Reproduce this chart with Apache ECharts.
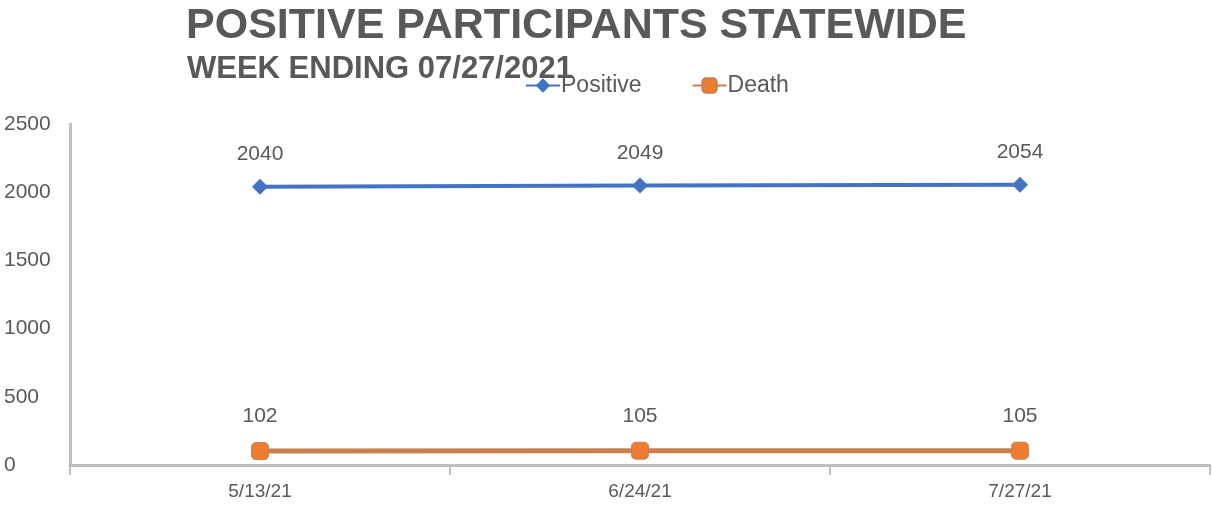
<!DOCTYPE html>
<html><head><meta charset="utf-8">
<script src="https://cdn.jsdelivr.net/npm/echarts@6/dist/echarts.min.js"></script>
<style>html,body{margin:0;padding:0;background:#fff}#c{width:1212px;height:505px}</style>
</head><body><div id="c"></div>
<script>
const categories = ['5/13/21', '6/24/21', '7/27/21'];
const positiveValues = [2040, 2049, 2054];
const deathValues = [102, 105, 105];
const yTicks = [0, 500, 1000, 1500, 2000, 2500];

const chart = echarts.init(document.getElementById('c'));
const txt = '#595959';
chart.setOption({
  animation: false,
  title: [
    { text: 'POSITIVE PARTICIPANTS STATEWIDE', left: 181, top: 0,
      textStyle: { fontFamily: 'Liberation Sans', fontWeight: 'bold', fontSize: 43, color: txt } },
    { text: 'WEEK ENDING 07/27/2021', left: 182, top: 49,
      textStyle: { fontFamily: 'Liberation Sans', fontWeight: 'bold', fontSize: 31, color: txt } }
  ],
  legend: {
    left: 520, top: 69, itemGap: 50, itemWidth: 34, itemHeight: 18,
    textStyle: { fontFamily: 'Liberation Sans', fontSize: 23, color: txt, padding: [0, 0, 0, -4] },
    data: ['Positive', 'Death']
  },
  grid: { left: 70, right: 2, top: 124, bottom: 40 },
  xAxis: {
    type: 'category', data: categories, boundaryGap: true,
    axisLine: { lineStyle: { color: '#BFBFBF', width: 3 } },
    axisTick: { show: true, length: 10, lineStyle: { color: '#BFBFBF', width: 2 } },
    axisLabel: { fontFamily: 'Liberation Sans', fontSize: 19, color: txt, margin: 17 }
  },
  yAxis: {
    type: 'value', min: 0, max: 2500, interval: 500,
    axisLine: { show: true, lineStyle: { color: '#BFBFBF', width: 3 } },
    axisTick: { show: false },
    splitLine: { show: false },
    axisLabel: { align: 'left', margin: 66, fontFamily: 'Liberation Sans', fontSize: 21, color: txt,
      formatter: v => yTicks.includes(v) ? String(v) : '' }
  },
  series: [
    { name: 'Positive', type: 'line', data: positiveValues,
      symbol: 'diamond', symbolSize: 16,
      lineStyle: { color: '#4472C4', width: 4 },
      itemStyle: { color: '#4472C4' },
      label: { show: true, position: 'top', distance: 14, fontFamily: 'Liberation Sans', fontSize: 21, color: txt } },
    { name: 'Death', type: 'line', data: deathValues,
      symbol: 'roundRect', symbolSize: 17,
      lineStyle: { color: '#C9804F', width: 5 },
      itemStyle: { color: '#ED7D31', borderColor: '#C9804F', borderWidth: 1 },
      label: { show: true, position: 'top', distance: 15, fontFamily: 'Liberation Sans', fontSize: 21, color: txt } }
  ]
});
</script></body></html>
